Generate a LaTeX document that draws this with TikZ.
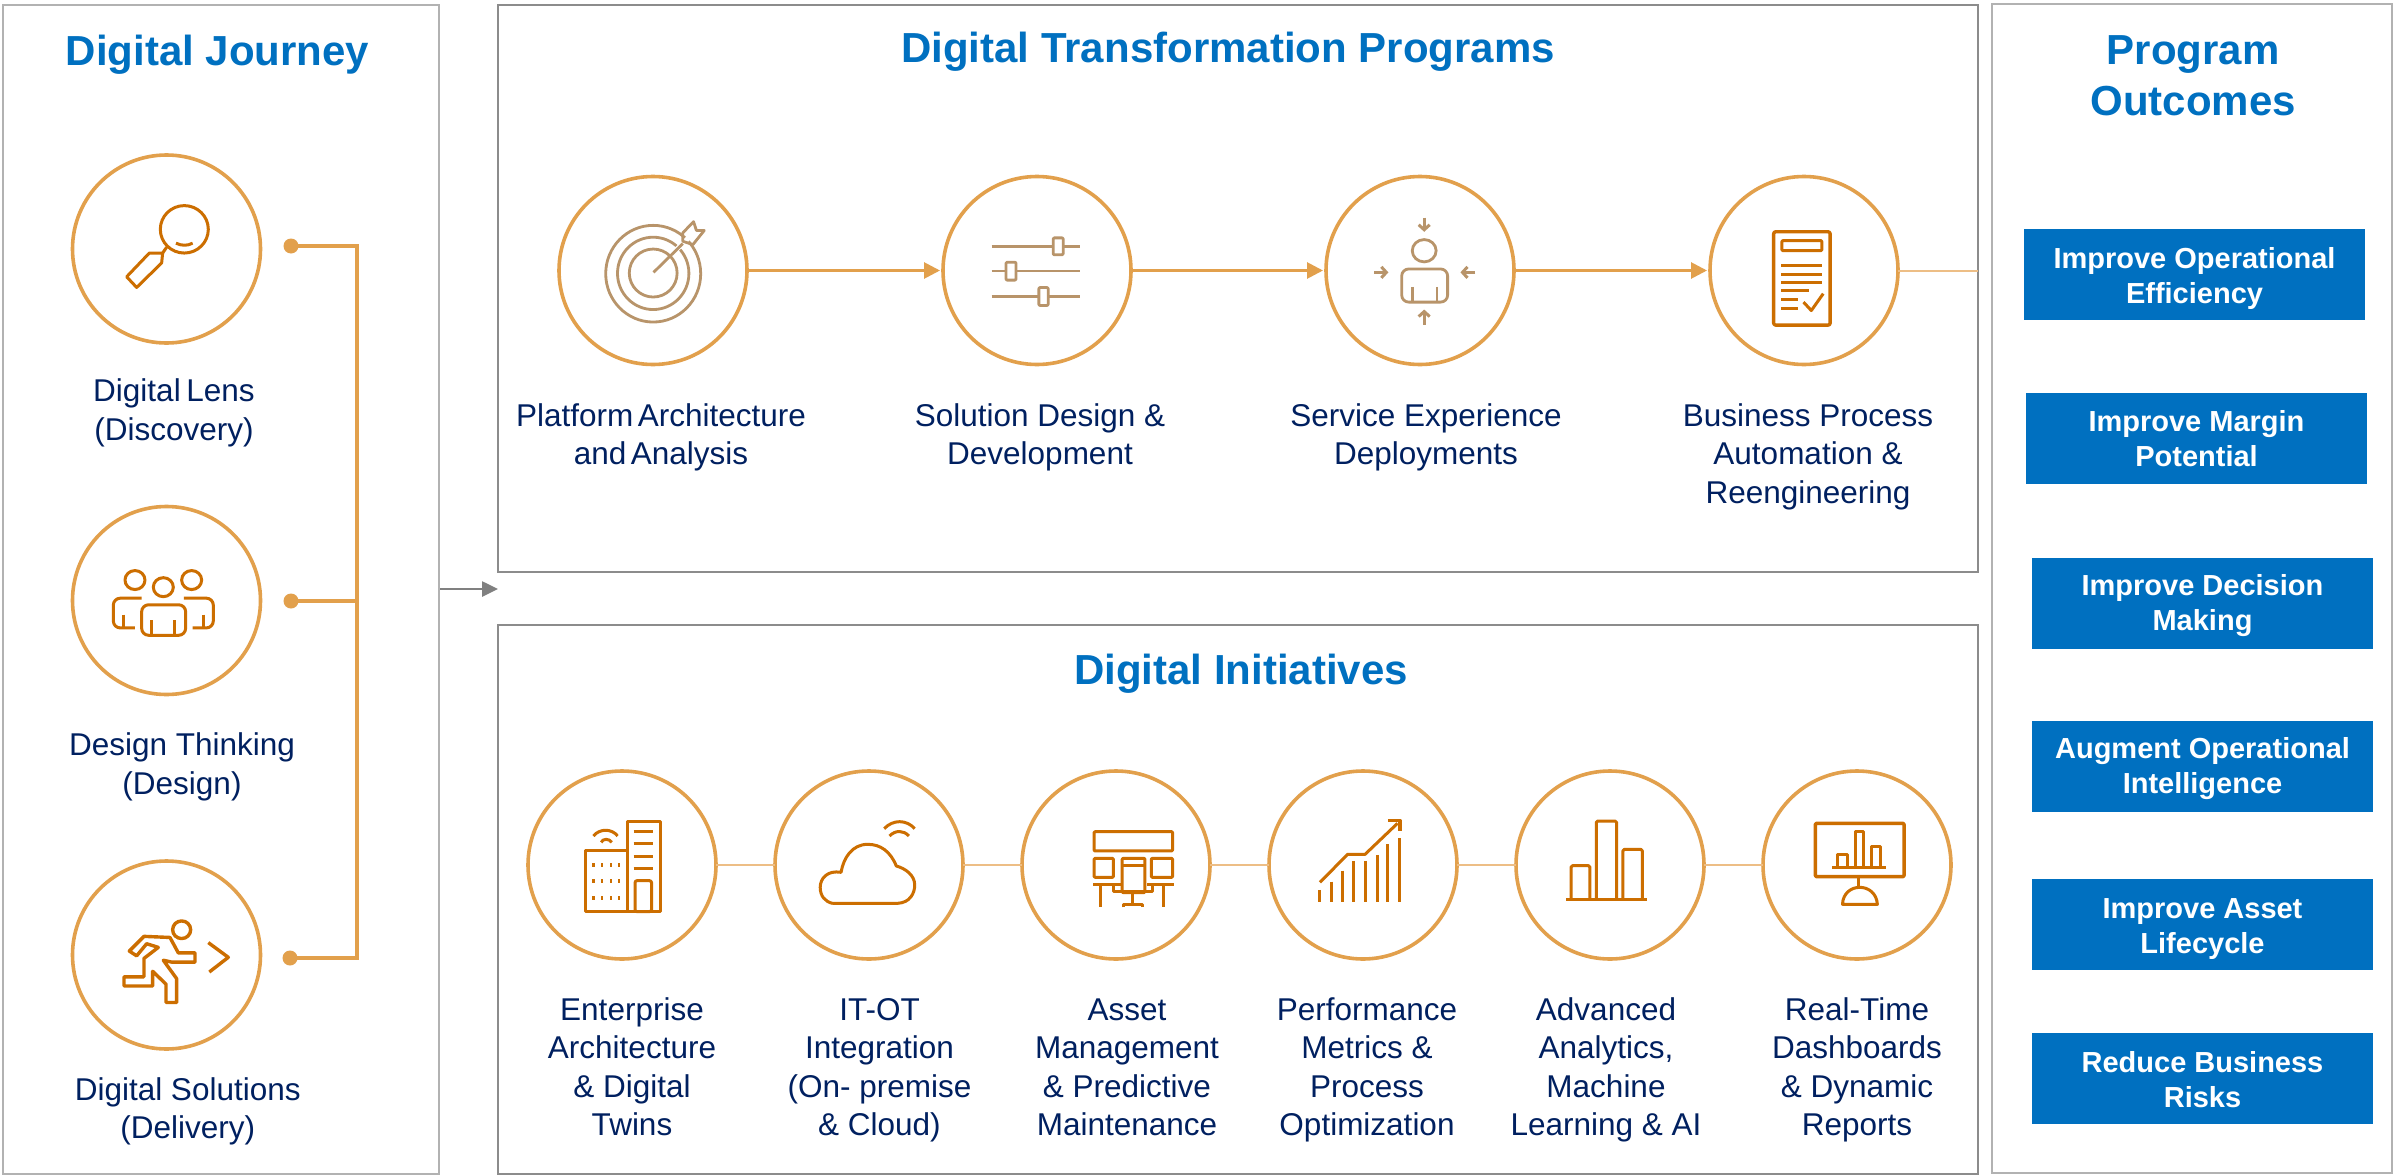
\documentclass[tikz,border=0pt]{standalone}
\usepackage{fontspec}
\setmainfont{Liberation Sans}
\usetikzlibrary{arrows.meta,calc}
\definecolor{navy}{HTML}{002060}
\definecolor{hblue}{HTML}{0070C0}
\definecolor{ring}{HTML}{E2A04C}
\definecolor{thinline}{HTML}{EDBE86}
\definecolor{icondark}{HTML}{CC6E00}
\definecolor{icontan}{HTML}{B8946A}
\newcommand{\dn}[1]{\rule{0pt}{#1pt}}
\tikzset{
  panelA/.style={draw=black!30,line width=2pt,anchor=north west,inner sep=0pt,outer sep=0pt},
  panelB/.style={draw=black!45,line width=1.4pt,anchor=north west,inner sep=0pt,outer sep=0pt},
  ringnode/.style={circle,draw=ring,line width=3.6pt,fill=white,minimum size=188pt,inner sep=0pt,outer sep=0pt},
  title/.style={font=\fontsize{42}{51}\selectfont\bfseries,text=hblue,align=center,anchor=base},
  lab/.style={font=\fontsize{31.5}{38.5}\selectfont,text=navy,align=center,anchor=base},
  outbox/.style={fill=hblue,text=white,font=\fontsize{29}{35}\selectfont\bfseries,align=center,minimum width=341pt,minimum height=91pt,inner sep=0pt,outer sep=0pt},
  dotnode/.style={circle,fill=ring,minimum size=15pt,inner sep=0pt,outer sep=0pt},
  bus/.style={draw=ring,line width=3.2pt},
  flow/.style={draw=ring,line width=2.8pt,-{Triangle[length=16pt,width=16pt]},shorten >=3pt},
  thinc/.style={draw=thinline,line width=2pt},
  idk/.style={draw=icondark,line width=3pt,line join=round},
  itan/.style={draw=icontan,line width=2.8pt,line join=round},
  Zone/.style={x=.3333pt,y=-.3954pt},
  Ztwo/.style={x=.3333pt,y=-.3676pt,yshift=-600pt},
  Zthree/.style={x=.3571pt,y=-.338pt,xshift=540pt,yshift=-150pt},
  Zfour/.style={x=.4592pt,y=-.338pt,xshift=1280pt,yshift=-150pt},
  Zfive/.style={x=.4847pt,y=-.3333pt,xshift=510pt,yshift=-750pt},
  Zsix/.style={x=.4847pt,y=-.3333pt,xshift=1240pt,yshift=-750pt},
}
\begin{document}
\begin{tikzpicture}[x=1pt,y=-1pt]
\useasboundingbox (0,0) rectangle (2394,1175);
\fill[white] (0,0) rectangle (2394,1175);
% panels
\node[panelA,minimum width=436pt,minimum height=1169pt] (lb) at (3,5) {};
\node[panelB,minimum width=1480pt,minimum height=567pt] (tb) at (498,5) {};
\node[panelB,minimum width=1480pt,minimum height=549pt] (bb) at (498,625) {};
\node[panelA,minimum width=400pt,minimum height=1169pt] (rb) at (1992,4) {};
% titles
\node[title] (t1) at (217.5,65) {Digital Journey};
\node[title] (t2) at (1228,62) {Digital Transformation Programs};
\node[title] (t3) at (1241,684) {Digital Initiatives};
\node[title] (t4) at (2193,115) {Program\\Outcomes};
% circles
\node[ringnode] (a1) at (166.5,249) {};
\node[ringnode] (a2) at (166.5,600.5) {};
\node[ringnode] (a3) at (166.5,955) {};
\node[ringnode] (c1) at (653,270.5) {};
\node[ringnode] (c2) at (1037,270.5) {};
\node[ringnode] (c3) at (1420,270.5) {};
\node[ringnode] (c4) at (1804,270.5) {};
\node[ringnode] (e1) at (622,865) {};
\node[ringnode] (e2) at (869,865) {};
\node[ringnode] (e3) at (1116,865) {};
\node[ringnode] (e4) at (1363,865) {};
\node[ringnode] (e5) at (1610,865) {};
\node[ringnode] (e6) at (1857,865) {};
% left bus
\node[dotnode] (d1) at (291,246) {};
\node[dotnode] (d2) at (291,601) {};
\node[dotnode] (d3) at (290,958) {};
\coordinate (busT) at (357,246);
\coordinate (busB) at (357,958);
\draw[bus] (d1.center) -- (busT) -- (busB) -- (d3.center);
\draw[bus] (d2.center) -- (d2 -| busT);
% grey arrow
\coordinate (gS) at (440,589);
\coordinate (gE) at (498,589);
\draw[draw=black!50,line width=2.6pt,-{Triangle[length=16pt,width=15pt]}] (gS) -- (gE);
% flow
\draw[flow] (c1) -- (c2);
\draw[flow] (c2) -- (c3);
\draw[flow] (c3) -- (c4);
\draw[thinc] (c4) -- (c4 -| tb.east);
\draw[thinc] (e1) -- (e2);
\draw[thinc] (e2) -- (e3);
\draw[thinc] (e3) -- (e4);
\draw[thinc] (e4) -- (e5);
\draw[thinc] (e5) -- (e6);
% labels
\node[lab] (la1) at (174,440) {{\spaceskip=.18em Digital Lens}\\(Discovery)};
\node[lab] (la2) at (182,794) {Design Thinking\\(Design)};
\node[lab] (la3) at (187.7,1138.5) {Digital Solutions\\(Delivery)};
\node[lab] (lc1) at (661,464.5) {{\spaceskip=.14em Platform Architecture}\\{\spaceskip=.14em and Analysis}};
\node[lab] (lc2) at (1040,464.5) {Solution Design \&\\Development};
\node[lab] (lc3) at (1426,464.5) {Service Experience\\Deployments};
\node[lab] (lc4) at (1808,503) {Business Process\\Automation \&\\Reengineering};
\node[lab] (le1) at (632,1135.5) {Enterprise\\Architecture\\\& Digital\\Twins};
\node[lab] (le2) at (879.5,1135.5) {IT-OT\\Integration\\(On- premise\\\& Cloud)};
\node[lab] (le3) at (1127,1135.5) {Asset\\Management\\\& Predictive\\Maintenance};
\node[lab] (le4) at (1367,1135.5) {Performance\\Metrics \&\\Process\\Optimization};
\node[lab] (le5) at (1606,1135.5) {Advanced\\Analytics,\\Machine\\Learning \& AI};
\node[lab] (le6) at (1857,1135.5) {Real-Time\\Dashboards\\\& Dynamic\\Reports};
% outcomes
\node[outbox] (o1) at (2194.5,274.5) {\dn{30}Improve Operational\\Efficiency};
\node[outbox] (o2) at (2196.5,438.5) {Improve Margin\\Potential};
\node[outbox] (o3) at (2202.5,603) {\dn{27}Improve Decision\\Making};
\node[outbox] (o4) at (2202.5,766) {\dn{27}Augment Operational\\Intelligence};
\node[outbox] (o5) at (2202.5,924) {\dn{30}Improve Asset\\Lifecycle};
\node[outbox] (o6) at (2202.5,1078) {\dn{24}Reduce Business\\Risks};
% icon: magnifier
\begin{scope}[Zone,idk]
\draw (553,580) ellipse [x radius=72,y radius=60];
\draw (528,615) .. controls (545,622) and (562,622) .. (578,615);
\draw (448,640) -- (380,700) -- (410,727) -- (485,665) -- (488,640) -- cycle;
\draw (488,640) -- (500,625);
\end{scope}
% icon: people
\begin{scope}[Zone,idk]
\draw (405,1467) ellipse [x radius=30,y radius=24];
\draw (575,1467) ellipse [x radius=30,y radius=24];
\draw (490,1485) ellipse [x radius=30,y radius=24];
\end{scope}
\begin{scope}[idk,x=.3333pt,y=-.3676pt,yshift=-600pt]
\draw[rounded corners=7pt] (425,96) -- (425,13) -- (557,13) -- (557,96) -- cycle;
\draw (455,55) -- (455,96) (525,55) -- (525,96);
\draw[rounded corners=7pt] (425,-5) -- (340,-5) -- (340,76) -- (405,76);
\draw (372,40) -- (372,76);
\draw[rounded corners=7pt] (552,-5) -- (640,-5) -- (640,76) -- (578,76);
\draw (610,40) -- (610,76);
\end{scope}
% icon: runner
\begin{scope}[Ztwo,idk,line width=3.4pt]
\draw (545,897) ellipse [x radius=27,y radius=24];
\draw (388,955) -- (432,915) -- (510,918) -- (535,960) -- (585,960) -- (585,985) -- (515,985) -- (490,980) -- (530,1030) -- (530,1095) -- (498,1095) -- (498,1045) -- (458,1010) -- (458,1050) -- (372,1050) -- (372,1025) -- (432,1025) -- (432,975) -- (475,945) -- (440,935) -- (410,968) -- cycle;
\draw (625,932) -- (685,972) -- (628,1012);
\end{scope}
% icon: target
\begin{scope}[Zthree,itan]
\draw (317,366) ellipse [x radius=133,y radius=143];
\draw (317,365) ellipse [x radius=100,y radius=107];
\draw (317,364) ellipse [x radius=67,y radius=71];
\draw[white,line width=5pt] (372,305) -- (418,258);
\draw (318,362) -- (400,277);
\draw (400,245) -- (430,212) -- (438,238) -- (460,238) -- (428,280) -- (400,270) -- cycle;
\end{scope}
% icon: sliders
\begin{scope}[Zthree,itan]
\draw (1265,285) -- (1512,285);
\draw (1265,358) -- (1512,358);
\draw (1265,433) -- (1512,433);
\filldraw[fill=white,rounded corners=1pt] (1437,260) rectangle (1465,310);
\filldraw[fill=white,rounded corners=1pt] (1305,332) rectangle (1333,385);
\filldraw[fill=white,rounded corners=1pt] (1397,407) rectangle (1423,460);
\end{scope}
% icon: person with arrows
\begin{scope}[Zfour,itan]
\draw (314,298) ellipse [x radius=26,y radius=33];
\draw[rounded corners=7pt] (265,450) -- (265,352) -- (365,352) -- (365,450) -- cycle;
\draw (288,405) -- (288,450) (342,405) -- (342,450);
\draw[-{Straight Barb[length=5pt,width=11pt]},line width=3pt] (314,200) -- (314,242);
\draw[-{Straight Barb[length=5pt,width=11pt]},line width=3pt] (314,517) -- (314,472);
\draw[-{Straight Barb[length=5pt,width=11pt]},line width=3pt] (205,362) -- (236,362);
\draw[-{Straight Barb[length=5pt,width=11pt]},line width=3pt] (425,362) -- (393,362);
\end{scope}
% icon: document
\begin{scope}[Zfour,idk]
\draw[rounded corners=2pt,line width=3.4pt] (1075,242) rectangle (1198,518);
\draw[rounded corners=1pt] (1093,268) rectangle (1180,298);
\draw (1092,342) -- (1180,342) (1092,368) -- (1180,368) (1092,392) -- (1180,392) (1092,417) -- (1153,417) (1092,442) -- (1127,442) (1092,468) -- (1127,468);
\draw (1140,450) -- (1157,475) -- (1183,425);
\end{scope}
% icon: building
\begin{scope}[Zfive,idk]
\draw (242,215) rectangle (310,485);
\draw (155,303) rectangle (242,485);
\draw (255,243) -- (295,243) (255,280) -- (295,280) (255,320) -- (295,320) (255,357) -- (295,357);
\draw[rounded corners=2pt] (258,485) -- (258,392) -- (292,392) -- (292,485) -- cycle;
\foreach \yy in {345,393,445} {\foreach \xx in {172,190,208,225} {\fill[icondark] (\xx-2.5,\yy-6) rectangle (\xx+2.5,\yy+6);}}
\draw (172,258) .. controls (185,235) and (210,235) .. (222,258);
\draw (188,277) .. controls (192,265) and (204,265) .. (210,277);
\end{scope}
% icon: cloud
\begin{scope}[Zfive,idk]
\draw (665,460) -- (800,460) .. controls (825,458) and (835,430) .. (835,405) .. controls (835,375) and (815,355) .. (797,348) .. controls (785,305) and (765,283) .. (738,283) .. controls (705,283) and (688,325) .. (683,367) .. controls (655,360) and (640,385) .. (640,412) .. controls (640,438) and (650,455) .. (665,460);
\draw (772,236) .. controls (790,208) and (818,208) .. (835,236);
\draw (783,258) .. controls (795,240) and (812,240) .. (823,258);
\end{scope}
% icon: office
\begin{scope}[Zfive,idk]
\draw[rounded corners=1pt] (1205,245) rectangle (1367,303);
\draw[rounded corners=1pt] (1205,325) rectangle (1245,382);
\draw[rounded corners=1pt] (1323,325) rectangle (1367,382);
\draw[rounded corners=1pt] (1263,325) rectangle (1310,428);
\draw (1263,347) -- (1310,347);
\draw (1203,405) -- (1260,405) (1315,405) -- (1369,405);
\draw (1218,405) -- (1218,472) (1348,405) -- (1348,472);
\draw (1245,405) -- (1245,425) -- (1325,425) -- (1325,405);
\draw (1285,428) -- (1285,465) (1265,472) -- (1265,465) -- (1305,465) -- (1305,472);
\end{scope}
% icon: growth
\begin{scope}[Zsix,idk]
\foreach \xx/\yy in {165/420,188/395,211/362,234/333,258/333,283/315,305/283,329/265} {\draw (\xx,\yy) -- (\xx,455);}
\draw (165,397) -- (222,313) -- (258,313) -- (325,220);
\draw[line width=3.4pt] (305,211) -- (330,211) -- (330,242);
\end{scope}
% icon: bars
\begin{scope}[Zsix,idk]
\draw (673,450) -- (840,450);
\draw[rounded corners=1.5pt] (683,450) -- (683,347) -- (722,347) -- (722,450);
\draw[rounded corners=1.5pt] (735,450) -- (735,213) -- (777,213) -- (777,450);
\draw[rounded corners=1.5pt] (790,450) -- (790,298) -- (830,298) -- (830,450);
\end{scope}
% icon: dashboard
\begin{scope}[Zsix,idk]
\draw[rounded corners=1pt,line width=3.4pt] (1187,220) rectangle (1370,380);
\draw (1222,353) -- (1333,353);
\draw (1233,353) -- (1233,315) -- (1253,315) -- (1253,353);
\draw (1270,353) -- (1270,245) -- (1287,245) -- (1287,353);
\draw (1303,353) -- (1303,290) -- (1322,290) -- (1322,353);
\draw (1277,380) -- (1277,410);
\draw (1243,463) .. controls (1245,395) and (1312,395) .. (1315,463) -- cycle;
\end{scope}
\end{tikzpicture}
\end{document}
